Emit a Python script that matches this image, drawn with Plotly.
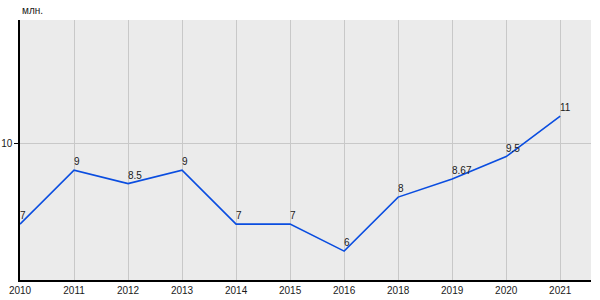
import plotly.graph_objects as go

years = ["2010", "2011", "2012", "2013", "2014", "2015", "2016", "2018", "2019", "2020", "2021"]
values = [7, 9, 8.5, 9, 7, 7, 6, 8, 8.67, 9.5, 11]
labels = ["7", "9", "8.5", "9", "7", "7", "6", "8", "8.67", "9.5", "11"]

fig = go.Figure()
fig.add_trace(go.Scatter(
    x=years, y=values, mode="lines",
    line=dict(color="#0a4de0", width=1.6),
    cliponaxis=False, showlegend=False,
))

point_labels = [
    dict(x=i, y=yv, text=t, xref="x", yref="y", xanchor="left", yanchor="bottom",
         xshift=-2, yshift=1, showarrow=False, font=dict(size=10, color="#1a1a1a"))
    for i, (yv, t) in enumerate(zip(values, labels))
]

fig.update_layout(
    width=600, height=300,
    margin=dict(l=20, r=9, t=20, b=20),
    paper_bgcolor="white", plot_bgcolor="#ebebeb",
    font=dict(family="Liberation Sans, Arial", size=10, color="#1a1a1a"),
    xaxis=dict(
        type="category", range=[0, 10.57], automargin=False,
        categoryorder="array", categoryarray=years,
        showgrid=True, gridcolor="#c8c8c8", gridwidth=1,
        showline=True, linecolor="black", linewidth=1.5,
        ticks="", tickfont=dict(size=10),
    ),
    yaxis=dict(
        range=[4.93, 14.56], tickvals=[10], ticktext=["10"], automargin=False,
        showgrid=True, gridcolor="#c8c8c8", gridwidth=1,
        showline=True, linecolor="black", linewidth=1.5,
        ticks="outside", ticklen=4, tickcolor="black",
        zeroline=False, tickfont=dict(size=10),
    ),
    annotations=[dict(
        text="млн.", xref="paper", yref="paper", x=0, y=1,
        xanchor="left", yanchor="bottom", yshift=2, xshift=0,
        showarrow=False, font=dict(size=10, color="#1a1a1a"),
    )] + point_labels,
)

fig.write_html("out.html")
